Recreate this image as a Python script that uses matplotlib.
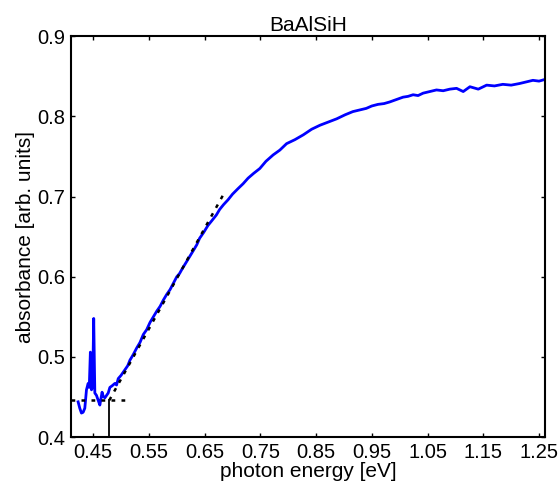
import matplotlib
matplotlib.use("Agg")
import matplotlib.pyplot as plt

plt.rcParams["font.family"] = ["Liberation Sans", "DejaVu Sans"]

energy = [
    0.423, 0.426, 0.429, 0.432, 0.435, 0.438, 0.441, 0.443, 0.445, 0.446,
    0.447, 0.449, 0.451, 0.452, 0.453, 0.456, 0.459, 0.462, 0.464, 0.466,
    0.468, 0.471, 0.474, 0.477, 0.480, 0.484, 0.489, 0.492, 0.495, 0.500,
    0.507, 0.512, 0.516, 0.522, 0.528, 0.534, 0.540, 0.546, 0.552, 0.558,
    0.564, 0.570, 0.576, 0.582, 0.588, 0.594, 0.600, 0.605, 0.609, 0.616,
    0.623, 0.630, 0.636, 0.641, 0.648, 0.656, 0.663, 0.671, 0.677, 0.684,
    0.692, 0.700, 0.710, 0.719, 0.728, 0.738, 0.749, 0.760, 0.773, 0.785,
    0.797, 0.812, 0.827, 0.842, 0.857, 0.872, 0.887, 0.902, 0.916, 0.928,
    0.940, 0.950, 0.961, 0.972, 0.982, 0.994, 1.006, 1.015, 1.024, 1.033,
    1.042, 1.054, 1.066, 1.078, 1.090, 1.102, 1.114, 1.126, 1.141, 1.156,
    1.170, 1.185, 1.200, 1.215, 1.227, 1.239, 1.250, 1.260,
]
absorb = [
    0.444, 0.436, 0.430, 0.431, 0.436, 0.459, 0.467, 0.462, 0.506, 0.470,
    0.459, 0.462, 0.548, 0.500, 0.455, 0.452, 0.446, 0.440, 0.448, 0.456,
    0.451, 0.449, 0.452, 0.455, 0.462, 0.464, 0.467, 0.465, 0.473, 0.477,
    0.484, 0.489, 0.496, 0.503, 0.511, 0.518, 0.528, 0.534, 0.543, 0.550,
    0.557, 0.563, 0.571, 0.578, 0.584, 0.592, 0.600, 0.604, 0.609, 0.617,
    0.625, 0.633, 0.640, 0.648, 0.655, 0.664, 0.670, 0.677, 0.684, 0.690,
    0.696, 0.703, 0.710, 0.716, 0.723, 0.729, 0.735, 0.744, 0.752, 0.758,
    0.766, 0.771, 0.777, 0.784, 0.789, 0.793, 0.797, 0.802, 0.806, 0.808,
    0.810, 0.813, 0.815, 0.816, 0.818, 0.821, 0.824, 0.825, 0.827, 0.826,
    0.829, 0.831, 0.833, 0.832, 0.834, 0.835, 0.831, 0.837, 0.834, 0.839,
    0.838, 0.840, 0.839, 0.841, 0.843, 0.845, 0.844, 0.846,
]

# linear fit of the absorption edge and the baseline
fit_x = [0.479, 0.684]
fit_y = [0.446, 0.703]
base_x = [0.410, 0.516]
base_y = [0.446, 0.446]
edge_x = [0.479, 0.479]
edge_y = [0.400, 0.446]

xticks = [0.45, 0.55, 0.65, 0.75, 0.85, 0.95, 1.05, 1.15, 1.25]
yticks = [0.4, 0.5, 0.6, 0.7, 0.8, 0.9]

fig = plt.figure(figsize=(5.58, 4.83), dpi=100)
ax = fig.add_axes([0.127, 0.095, 0.850, 0.830])

ax.plot(energy, absorb, color="#0000ff", lw=2.0, zorder=2)
ax.plot(fit_x, fit_y, color="black", lw=1.8, ls=(0, (1.5, 2.5)), zorder=3)
ax.plot(base_x, base_y, color="black", lw=1.8, ls=(0, (1.5, 2.5)), zorder=3)
ax.plot(edge_x, edge_y, color="black", lw=1.3, zorder=3)

ax.set_xlim(0.41, 1.261)
ax.set_ylim(0.4, 0.9)
ax.set_xticks(xticks)
ax.set_xticklabels([f"{t:.2f}" for t in xticks])
ax.set_yticks(yticks)
ax.set_yticklabels([f"{t:.1f}" for t in yticks])
ax.tick_params(direction="in", length=3, width=1, labelsize=14.5,
               top=True, right=True, pad=4)
for s in ax.spines.values():
    s.set_linewidth(1.5)

ax.set_title("BaAlSiH", fontsize=15, pad=4)
ax.set_xlabel("photon energy [eV]", fontsize=15, labelpad=0)
ax.set_ylabel("absorbance [arb. units]", fontsize=15, labelpad=2)

fig.savefig("out.png", dpi=100)
